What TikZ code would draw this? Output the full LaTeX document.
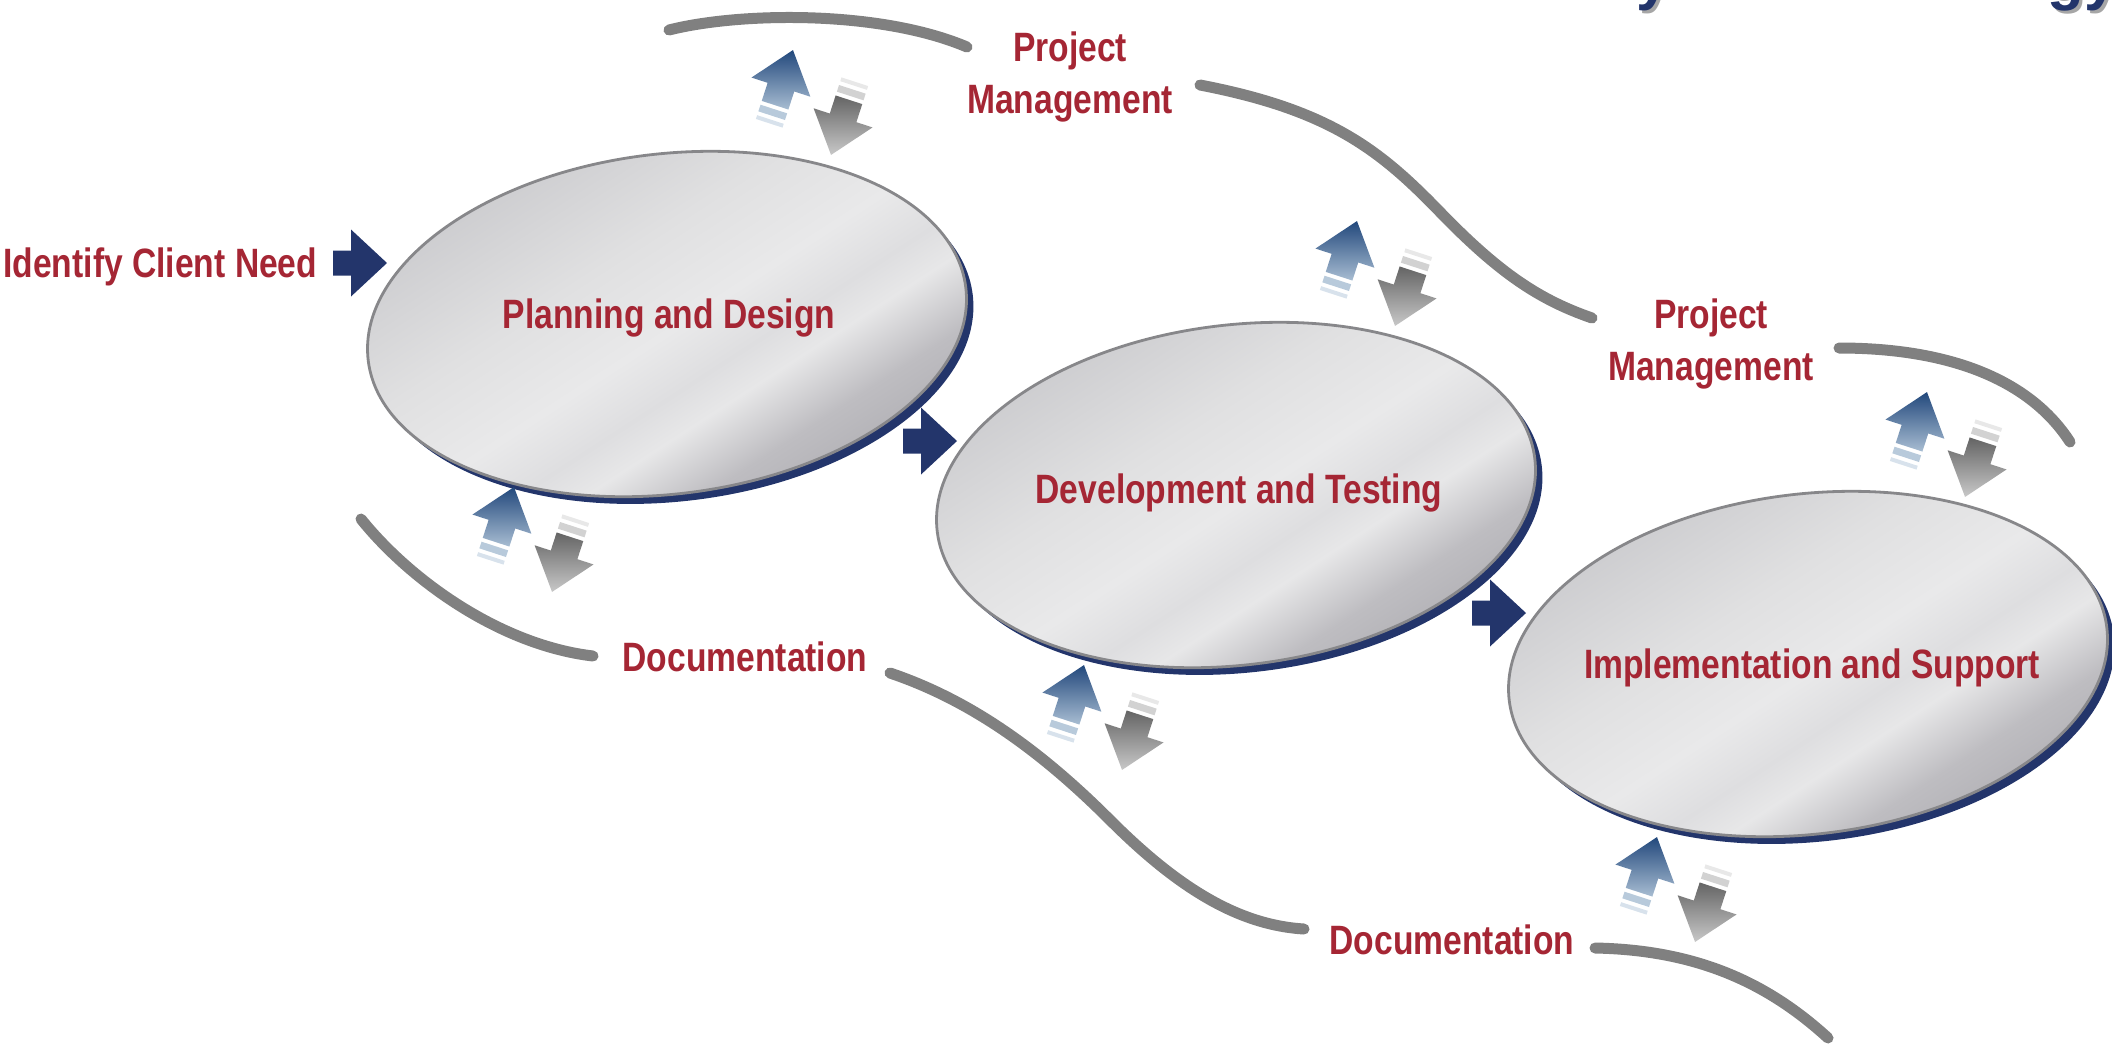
\documentclass[tikz,border=0pt]{standalone}
\usepackage{fontspec}
\newfontfamily\lblfont{Liberation Sans}[FakeStretch=0.82]
\newfontfamily\titlefont{Liberation Sans}
\definecolor{lblred}{RGB}{165,38,52}
\definecolor{dnavy}{RGB}{35,53,107}
\definecolor{curvegray}{RGB}{128,128,128}
\definecolor{rimgray}{RGB}{135,135,138}
\definecolor{ellA}{RGB}{203,203,206}
\definecolor{ellB}{RGB}{224,224,225}
\definecolor{ellC}{RGB}{233,233,234}
\definecolor{ellD}{RGB}{222,222,224}
\definecolor{ellE}{RGB}{231,231,232}
\definecolor{ellF}{RGB}{190,189,193}
\definecolor{ellG}{RGB}{174,173,178}
\definecolor{bluetip}{RGB}{34,72,124}
\definecolor{bluetail}{RGB}{168,189,210}
\definecolor{bluestrA}{RGB}{184,202,219}
\definecolor{bluestrB}{RGB}{216,226,236}
\definecolor{graytip}{RGB}{100,100,100}
\definecolor{graytail}{RGB}{200,200,200}
\definecolor{graystrA}{RGB}{210,210,210}
\definecolor{graystrB}{RGB}{232,232,232}
\pgfdeclarehorizontalshading{ellshade}{100bp}{color(0bp)=(ellA); color(25bp)=(ellA); color(40bp)=(ellB); color(50bp)=(ellC); color(56bp)=(ellD); color(60bp)=(ellE); color(67bp)=(ellF); color(75bp)=(ellG); color(100bp)=(ellG)}
\tikzset{
  lbl/.style={font=\lblfont\bfseries\fontsize{20.5pt}{26pt}\selectfont, text=lblred, inner sep=0pt, align=center},
  titletxt/.style={font=\titlefont\bfseries\fontsize{30pt}{30pt}\selectfont, inner sep=0pt, anchor=base west},
  lane/.style={draw=curvegray, line width=5.5pt, line cap=round},
  pics/blockarr/.style={code={
    \fill[dnavy] (0,-12.5) -- (18,-12.5) -- (18,-33.5) -- (54,0) -- (18,33.5) -- (18,12.5) -- (0,12.5) -- cycle;}},
  pics/bluearr/.style={code={
    \shade[top color=bluetip, bottom color=bluetail] (0,-42) -- (31,-3) -- (14,-3) -- (14,16) -- (-14,16) -- (-14,-3) -- (-31,-3) -- cycle;
    \fill[bluestrA] (-14,20) rectangle (14,27);
    \fill[bluestrB] (-14,31) rectangle (14,35);}},
  pics/grayarr/.style={code={
    \shade[top color=graytip, bottom color=graytail] (0,-42) -- (31,-3) -- (14,-3) -- (14,16) -- (-14,16) -- (-14,-3) -- (-31,-3) -- cycle;
    \fill[graystrA] (-14,20) rectangle (14,27);
    \fill[graystrB] (-14,31) rectangle (14,35);}},
  pics/updown/.style={code={
    \pic[rotate=-18] at (0,0) {bluearr};
    \pic[rotate=162] at (64,25) {grayarr};}}
}
\newcommand{\stageshape}[2]{%
  \begin{scope}[shift={(#1,#2)}, rotate=7]
    \fill[dnavy] (6,8) ellipse [x radius=301, y radius=170];
    \shade[shading=ellshade, shading angle=-57] (0,0) ellipse [x radius=301, y radius=170];
    \draw[rimgray, line width=1.4pt] (0,0) ellipse [x radius=301, y radius=170];
  \end{scope}}
\begin{document}
\begin{tikzpicture}[x=0.5pt, y=-0.5pt]
\useasboundingbox (0,0) rectangle (2112,1045);

% cut-off title fragments
\begin{scope}
  \clip (0,0) rectangle (2112,1045);
  \node[titletxt, text=black!35] (t1s) at (1639,1) {y};
  \node[titletxt, text=dnavy] (t1) at (1636,-2) {y};
  \node[titletxt, text=black!35] (t2s) at (2050,1) {gy};
  \node[titletxt, text=dnavy] (t2) at (2047,-2) {gy};
\end{scope}

% grey lanes
\draw[lane] (669,30) .. controls (740,12) and (880,10) .. (967,47);
\draw[lane] (1200,85) .. controls (1330,110) and (1380,150) .. (1440,212) .. controls (1500,274) and (1540,300) .. (1592,318);
\draw[lane] (1839,348) .. controls (1950,348) and (2030,380) .. (2070,442);
\draw[lane] (361,519) .. controls (410,580) and (500,645) .. (593,656);
\draw[lane] (890,673) .. controls (970,700) and (1040,750) .. (1110,820) .. controls (1180,890) and (1240,925) .. (1304,929);
\draw[lane] (1595,948) .. controls (1700,950) and (1770,985) .. (1828,1038);

% stages
\stageshape{667}{324}
\stageshape{1236}{495}
\stageshape{1808}{664}

\node[lbl, anchor=base] (pd) at (669,328) {Planning and Design};
\node[lbl, anchor=base] (dt) at (1239,503) {Development and Testing};
\node[lbl, anchor=base] (is) at (1812,678) {Implementation and Support};

% labels
\node[lbl, anchor=base west] (icn) at (3,277) {Identify Client Need};
\node[lbl] (pm1) at (1070,77) {Project\\Management};
\node[lbl] (pm2) at (1711,344) {Project\\Management};
\node[lbl, anchor=base] (doc1) at (745,671) {Documentation};
\node[lbl, anchor=base] (doc2) at (1452,954) {Documentation};

% flow arrows
\pic at (333,263) {blockarr};
\pic at (903,441) {blockarr};
\pic at (1472,613) {blockarr};

% up/down exchange arrows
\pic at (780,90) {updown};
\pic at (1344,261) {updown};
\pic at (1914,432) {updown};
\pic at (501,527) {updown};
\pic at (1071,705) {updown};
\pic at (1644,877) {updown};
\end{tikzpicture}
\end{document}
